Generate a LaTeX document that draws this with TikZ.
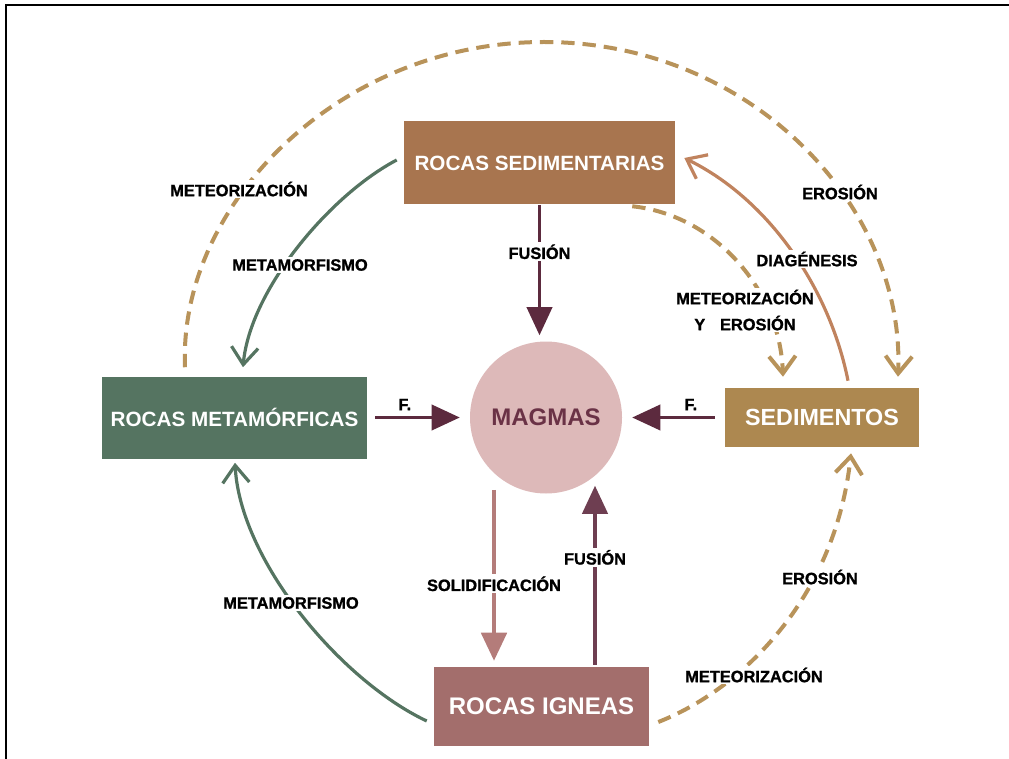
\documentclass[tikz,border=0pt]{standalone}
\usepackage{fontspec}
\setmainfont{Liberation Sans}
\newfontfamily\lblfont{Liberation Sans Bold}[FakeBold=1.2]
\usetikzlibrary{arrows.meta}
\definecolor{sedbrown}{HTML}{A8754F}
\definecolor{metgreen}{HTML}{557461}
\definecolor{sedgold}{HTML}{AD8850}
\definecolor{ignrose}{HTML}{A36E6C}
\definecolor{magpink}{HTML}{DDB9B9}
\definecolor{magdark}{HTML}{6A3246}
\definecolor{fusmaroon}{HTML}{5C2A3E}
\definecolor{fusup}{HTML}{6E3E51}
\definecolor{solrose}{HTML}{B47C7A}
\definecolor{diabrown}{HTML}{C0835E}
\definecolor{dashgold}{HTML}{B8935A}
\begin{document}
\begin{tikzpicture}[x=0.75pt,y=-0.75pt,
    rock/.style={rectangle,fill=#1,text=white,inner sep=0pt,font=\bfseries\fontsize{15.5}{18}\selectfont},
    lbl/.style={fill=white,inner sep=1.5pt,text=black,font=\lblfont\fontsize{12.3}{15}\selectfont},
    fuse/.style={draw=fusmaroon,line width=2pt,-{Triangle[length=21pt,width=19pt]}},
    barb/.style={-{Straight Barb[length=13pt,width=20pt]}},
    greenline/.style={draw=metgreen,line width=2.4pt,barb},
    dashline/.style={draw=dashgold,line width=3pt,dash pattern=on 10pt off 6pt,barb}]
    \useasboundingbox (0,0) rectangle (1009,759);
    \draw[line width=1.5pt] (6,759) -- (6,5) -- (1009,5);

    \node[rock=sedbrown,minimum width=203.25pt,minimum height=62.25pt] (sed) at (539.5,163) {ROCAS SEDIMENTARIAS};
    \node[rock=metgreen,minimum width=198.75pt,minimum height=61.5pt] (met) at (234.5,417.5) {ROCAS METAMÓRFICAS};
    \node[rock=sedgold,minimum width=145.5pt,minimum height=44.25pt,font=\bfseries\fontsize{17.5}{20}\selectfont] (sedi) at (822,417.5) {SEDIMENTOS};
    \node[rock=ignrose,minimum width=161.25pt,minimum height=59.25pt,font=\bfseries\fontsize{18}{21}\selectfont] (ign) at (541.5,706.5) {ROCAS IGNEAS};
    \node[circle,fill=magpink,minimum size=114pt,inner sep=0pt,text=magdark,font=\bfseries\fontsize{18}{21}\selectfont] (mag) at (546,417.5) {MAGMAS};

    \draw[fuse] (sed.south) -- ([shift={(-6.5,-6)}]mag.north) node[lbl,pos=0.36] {FUSIÓN};
    \draw[fuse] ([shift={(8,0)}]met.east) -- ([shift={(-10,0)}]mag.west) node[lbl,pos=0.35,above=3pt,fill=none] {F.};
    \draw[fuse] ([shift={(-10,0)}]sedi.west) -- ([shift={(10,0)}]mag.east) node[lbl,pos=0.29,above=3pt,fill=none] {F.};
    \draw[fuse,draw=solrose,line width=3pt] ([shift={(-52,-4)}]mag.south) -- ([shift={(-47.5,-6)}]ign.north) node[lbl,pos=0.55] {SOLIDIFICACIÓN};
    \draw[fuse,draw=fusup,line width=2.3pt] ([shift={(53.5,-2)}]ign.north) -- ([shift={(49,-8)}]mag.south) node[lbl,pos=0.6] {FUSIÓN};

    \draw[dashline] ([shift={(-49.5,-9)}]met.north) .. controls (178,205) and (339,42) .. (544,42)
        .. controls (750,42) and (905,205) .. ([shift={(76,-11)}]sedi.north);
    \draw[dashline] ([shift={(-43,1.5)}]sed.south east) .. controls (715,215) and (780,290) .. ([shift={(-39,-11)}]sedi.north);
    \draw[dashline] ([shift={(9,15.5)}]ign.east) .. controls (740,690) and (835,600) .. ([shift={(29,6)}]sedi.south);
    \draw[greenline] ([shift={(-7,-3)}]sed.west) .. controls (330,195) and (250,290) .. ([shift={(8.5,-9)}]met.north);
    \draw[greenline] ([shift={(-7,14.5)}]ign.west) .. controls (340,680) and (240,560) .. ([shift={(0.5,4)}]met.south);

    \node[lbl] (meteo1) at (239,189) {METEORIZACIÓN};
    \node[lbl] (eros1) at (840,192) {EROSIÓN};
    \node[lbl,align=center,font=\lblfont\fontsize{12.3}{19.5}\selectfont] (meteo2) at (745,310) {METEORIZACIÓN\\Y\hspace{0.9em}EROSIÓN};
    \node[lbl] (metam1) at (300,265) {METAMORFISMO};
    \node[lbl] (metam2) at (291,603) {METAMORFISMO};
    \node[lbl] (eros2) at (820,577) {EROSIÓN};
    \node[lbl] (meteo3) at (754,675) {METEORIZACIÓN};

    \draw[draw=diabrown,line width=2.4pt,barb] ([shift={(26,-7)}]sedi.north) .. controls (830,290) and (770,200) .. ([shift={(9,-5)}]sed.east);
    \node[lbl] (diag) at (807,259) {DIAGÉNESIS};
\end{tikzpicture}
\end{document}
